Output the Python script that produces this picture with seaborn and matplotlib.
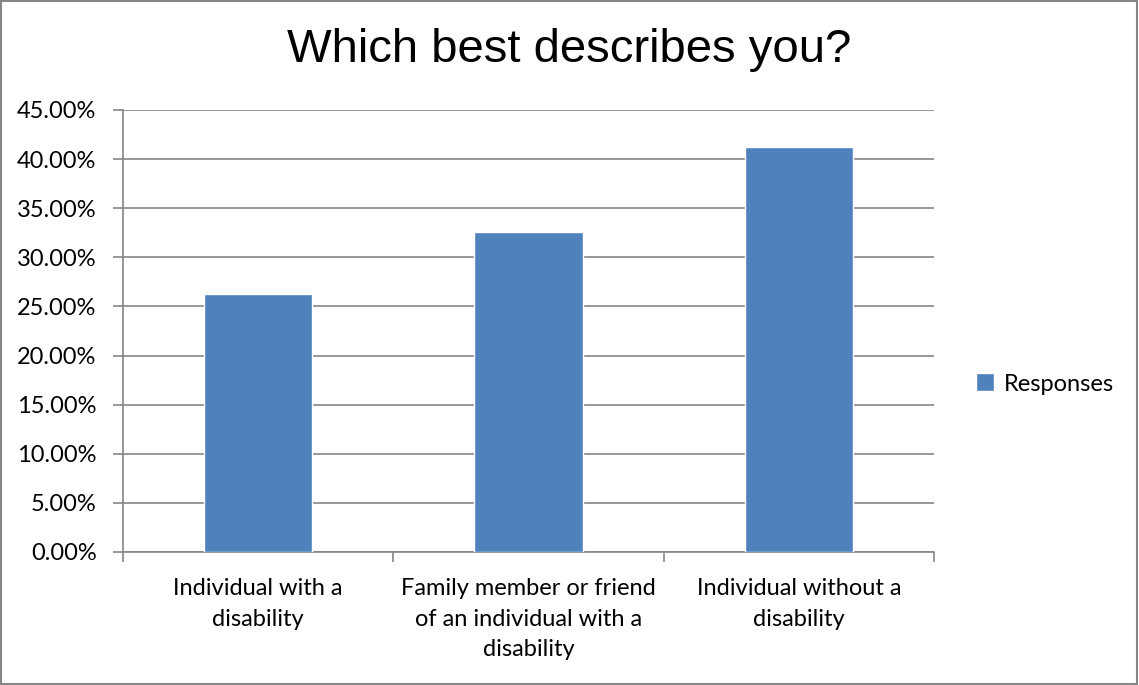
import pandas as pd
import numpy as np
import matplotlib.pyplot as plt
import matplotlib.ticker as mtick
import seaborn as sns

# Data
categories = [
    "Individual with a\ndisability",
    "Family member or friend\nof an individual with a\ndisability",
    "Individual without a\ndisability",
]
responses = [26.23, 32.54, 41.23]

df = pd.DataFrame({"category": categories, "value": responses})

sns.set_style("white")
plt.rcParams["font.family"] = ["Lato", "DejaVu Sans"]
plt.rcParams["text.color"] = "black"
plt.rcParams["xtick.labelcolor"] = "black"
plt.rcParams["ytick.labelcolor"] = "black"

fig = plt.figure(figsize=(11.39, 6.85), dpi=100)
ax = fig.add_axes([123 / 1139, 1 - 552 / 685, (934 - 123) / 1139, (552 - 110) / 685])

sns.barplot(data=df, x="category", y="value", color="#4f81bd",
            saturation=1, width=0.4, ax=ax, label="Responses", zorder=3)

# Axes
ax.set_ylim(0, 45)
ax.set_xlim(-0.5, 2.5)
ax.yaxis.set_major_locator(mtick.MultipleLocator(5))
ax.yaxis.set_major_formatter(mtick.FuncFormatter(lambda v, p: f"{v:.2f}%"))
ax.grid(axis="y", color="#868686", linewidth=1.2, zorder=0)
ax.set_xlabel("")
ax.set_ylabel("")

for side in ["top", "right"]:
    ax.spines[side].set_visible(False)
for side in ["left", "bottom"]:
    ax.spines[side].set_color("#868686")
    ax.spines[side].set_linewidth(1.2)

ax.set_xticks([-0.5, 0.5, 1.5, 2.5], minor=True)
ax.tick_params(axis="x", which="major", length=0, labelsize=17, pad=19)
ax.tick_params(axis="x", which="minor", length=7, color="#868686", width=1.2, direction="out", bottom=True)
ax.tick_params(axis="y", length=7, color="#868686", width=1.2, direction="out", left=True, labelsize=17, pad=12)
for lbl in ax.get_xticklabels():
    lbl.set_linespacing(1.55)

# Title
fig.text(0.5, 1 - 50 / 685, "Which best describes you?", ha="center", va="center",
         fontsize=34, color="black", family=["Liberation Sans", "DejaVu Sans"])

# Legend
ax.legend(loc="center left", bbox_to_anchor=(1.025, 0.38), frameon=False,
          fontsize=17, handlelength=0.8, handleheight=0.8, handletextpad=0.4)

# Outer border
fig.patches.append(plt.Rectangle((0.001, 0.001), 0.997, 0.997, transform=fig.transFigure,
                                 fill=False, edgecolor="#868686", linewidth=1.5))

plt.savefig("out.png", dpi=100)
